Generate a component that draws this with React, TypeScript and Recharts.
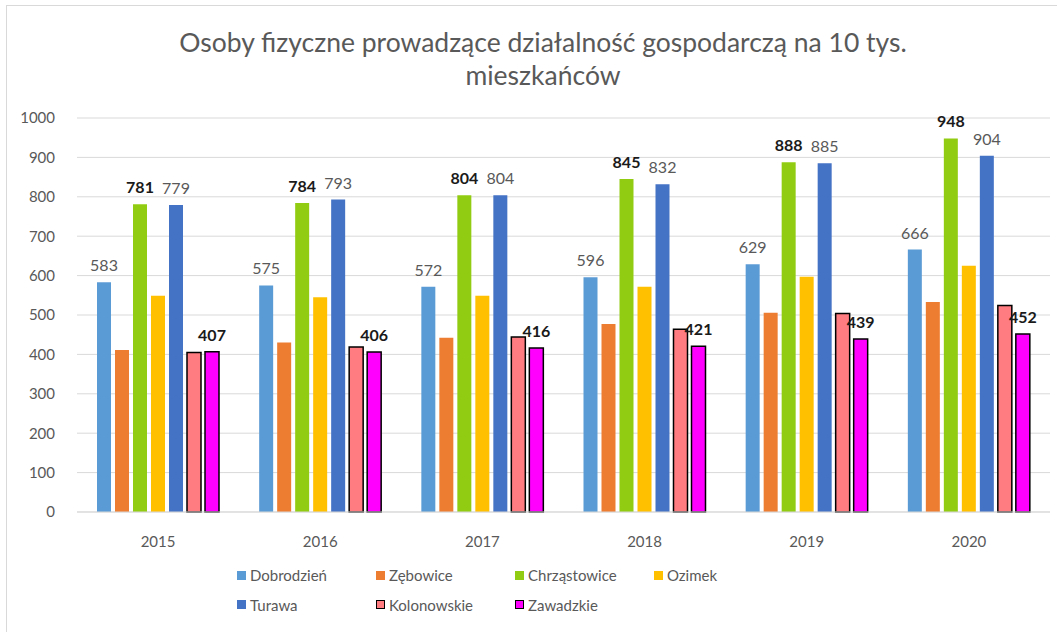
import { BarChart, Bar, XAxis, YAxis, CartesianGrid, Legend, LabelList } from 'recharts'

const years = ['2015', '2016', '2017', '2018', '2019', '2020']

const dobrodzien = [583, 575, 572, 596, 629, 666]
const zebowice = [411, 430, 442, 477, 506, 533]
const chrzastowice = [781, 784, 804, 845, 888, 948]
const ozimek = [549, 545, 549, 572, 597, 625]
const turawa = [779, 793, 804, 832, 885, 904]
const kolonowskie = [405, 419, 444, 464, 504, 524]
const zawadzkie = [407, 406, 416, 421, 439, 452]

const yTicks = [0, 100, 200, 300, 400, 500, 600, 700, 800, 900, 1000]

const data = years.map((year, i) => ({
  year,
  Dobrodzień: dobrodzien[i],
  Zębowice: zebowice[i],
  Chrząstowice: chrzastowice[i],
  Ozimek: ozimek[i],
  Turawa: turawa[i],
  Kolonowskie: kolonowskie[i],
  Zawadzkie: zawadzkie[i],
}))

type SeriesDef = {
  key: string
  color: string
  outlined?: boolean
  label?: 'light' | 'dark'
}

const series: SeriesDef[] = [
  { key: 'Dobrodzień', color: '#5b9bd5', label: 'light' },
  { key: 'Zębowice', color: '#ed7d31' },
  { key: 'Chrząstowice', color: '#92cc12', label: 'dark' },
  { key: 'Ozimek', color: '#ffc000' },
  { key: 'Turawa', color: '#4472c4', label: 'light' },
  { key: 'Kolonowskie', color: '#ff7c80', outlined: true },
  { key: 'Zawadzkie', color: '#ff00ff', outlined: true, label: 'dark' },
]

const FONT = 'Lato, "Liberation Sans", sans-serif'

function LegendGrid() {
  return (
    <div
      style={{
        display: 'grid',
        gridTemplateColumns: 'repeat(4, 139px)',
        rowGap: 9,
        paddingLeft: 237,
        paddingTop: 4,
        height: 54,
        boxSizing: 'border-box',
        fontFamily: FONT,
        fontSize: 15,
        color: '#595959',
      }}
    >
      {series.map((s) => (
        <div key={s.key} style={{ display: 'flex', alignItems: 'center', height: 18 }}>
          <span
            style={{
              display: 'inline-block',
              width: 9,
              height: 9,
              marginRight: 4,
              background: s.color,
              border: s.outlined ? '1.5px solid #000' : 'none',
              boxSizing: 'border-box',
            }}
          />
          {s.key}
        </div>
      ))}
    </div>
  )
}

export default function App() {
  return (
    <div
      style={{
        position: 'absolute',
        left: 0,
        top: 0,
        width: 1057,
        height: 632,
        background: '#fff',
        fontFamily: FONT,
      }}
    >
      <div
        style={{
          position: 'absolute',
          left: 6,
          top: 5,
          right: 0,
          bottom: 0,
          borderTop: '1px solid #d9d9d9',
          borderLeft: '1px solid #d9d9d9',
        }}
      />
      <div
        style={{
          position: 'absolute',
          left: 113,
          width: 860,
          top: 26,
          textAlign: 'center',
          fontSize: 26.5,
          lineHeight: '33px',
          color: '#595959',
        }}
      >
        Osoby fizyczne prowadzące działalność gospodarczą na 10 tys.
        <br />
        mieszkańców
      </div>
      <BarChart
        width={1057}
        height={632}
        data={data}
        margin={{ top: 118, right: 7, left: 0, bottom: 16 }}
        barSize={14}
        barGap={4}
        style={{ position: 'absolute', left: 0, top: 0 }}
      >
        <CartesianGrid vertical={false} stroke="#d9d9d9" />
        <XAxis
          dataKey="year"
          height={50}
          tickLine={false}
          axisLine={{ stroke: '#d9d9d9' }}
          tickMargin={18}
          tick={{ fill: '#595959', fontSize: 15, fontFamily: FONT }}
        />
        <YAxis
          width={77}
          domain={[0, 1000]}
          ticks={yTicks}
          tickLine={false}
          axisLine={false}
          tickMargin={16}
          tick={{ fill: '#595959', fontSize: 15, fontFamily: FONT }}
        />
        <Legend verticalAlign="bottom" wrapperStyle={{ left: 0, width: 1057 }} content={() => <LegendGrid />} />
        {series.map((s) => (
          <Bar
            key={s.key}
            dataKey={s.key}
            fill={s.color}
            stroke={s.outlined ? '#000' : 'none'}
            strokeWidth={s.outlined ? 1.5 : 0}
            isAnimationActive={false}
          >
            {s.label && (
              <LabelList
                dataKey={s.key}
                position="top"
                offset={11}
                fill={s.label === 'dark' ? '#1a1a1a' : '#595959'}
                fontSize={16}
                fontWeight={s.label === 'dark' ? 'bold' : 'normal'}
                fontFamily={FONT}
              />
            )}
          </Bar>
        ))}
      </BarChart>
    </div>
  )
}
